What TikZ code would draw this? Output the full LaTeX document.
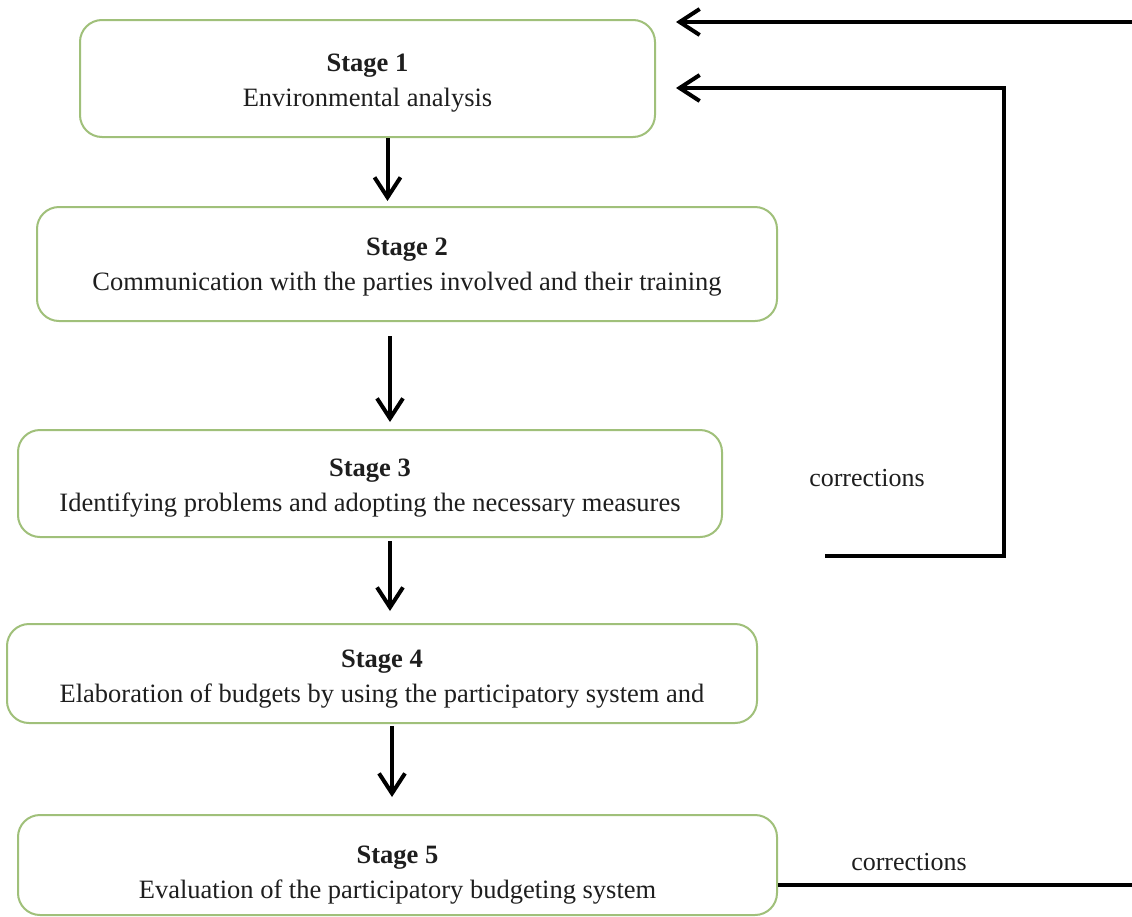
\documentclass[tikz,border=0pt]{standalone}
\usepackage{fontspec}
\setmainfont{Liberation Serif}
\usetikzlibrary{arrows.meta}
\definecolor{boxgreen}{RGB}{160,192,122}
\definecolor{txt}{RGB}{30,30,30}
\newcommand{\tstrut}[1]{\rule{0pt}{#1}}
\tikzset{
  stagebox/.style={draw=boxgreen, line width=2pt, rounded corners=22pt, fill=white,
    align=center, inner sep=0pt, text=txt,
    font=\fontsize{26.5}{35}\selectfont},
  arr/.style={draw=black, line width=4pt, -{Straight Barb[length=20pt,width=26pt,line width=4pt]}},
  fb/.style={draw=black, line width=4pt},
  lbl/.style={text=txt, font=\fontsize{26}{30}\selectfont, inner sep=0pt}
}
\begin{document}
\begin{tikzpicture}[x=1pt,y=-1pt]
\useasboundingbox[fill=white] (0,0) rectangle (1132,916);
\node[stagebox, minimum width=575pt, minimum height=117pt] (s1) at (367.5,78.5)
  {\tstrut{26pt}\textbf{Stage 1}\\Environmental analysis};
\node[stagebox, minimum width=740pt, minimum height=114pt] (s2) at (407,264)
  {\tstrut{24pt}\textbf{Stage 2}\\Communication with the parties involved and their training};
\node[stagebox, minimum width=704pt, minimum height=107pt] (s3) at (370,483.5)
  {\tstrut{26pt}\textbf{Stage 3}\\Identifying problems and adopting the necessary measures};
\node[stagebox, minimum width=750pt, minimum height=99pt] (s4) at (382,673.5)
  {\tstrut{28pt}\textbf{Stage 4}\\Elaboration of budgets by using the participatory system and};
\node[stagebox, minimum width=759pt, minimum height=100pt] (s5) at (397.5,865)
  {\tstrut{38pt}\textbf{Stage 5}\\Evaluation of the participatory budgeting system};
% vertical arrows
\draw[arr, shorten >=5pt] ([xshift=20pt]s1.south) -- ([xshift=20pt]s1.south |- s2.north);
\draw[arr, shorten <=14pt, shorten >=7pt] ([xshift=-17pt]s2.south) -- ([xshift=-17pt]s2.south |- s3.north);
\draw[arr, shorten <=3pt, shorten >=12pt] ([xshift=20pt]s3.south) -- ([xshift=20pt]s3.south |- s4.north);
\draw[arr, shorten <=2pt, shorten >=17pt] ([xshift=10pt]s4.south) -- ([xshift=10pt]s4.south |- s5.north);
% feedback lines
\coordinate (t1) at (676,22);
\coordinate (t2) at (676,88);
\coordinate (r1) at (1134,885);
\coordinate (r2) at (1134,22);
\coordinate (k1) at (1004,556);
\coordinate (k2) at (1004,88);
\coordinate (k0) at (825,556);
\draw[fb] (s5.east |- r1) -- (r1) -- (r2);
\draw[arr] (r2) -- (t1);
\draw[arr] (k0) -- (k1) -- (k2) -- (t2);
\node[lbl] (c1) at (867,478) {corrections};
\node[lbl] (c2) at (909,862) {corrections};
\end{tikzpicture}
\end{document}
